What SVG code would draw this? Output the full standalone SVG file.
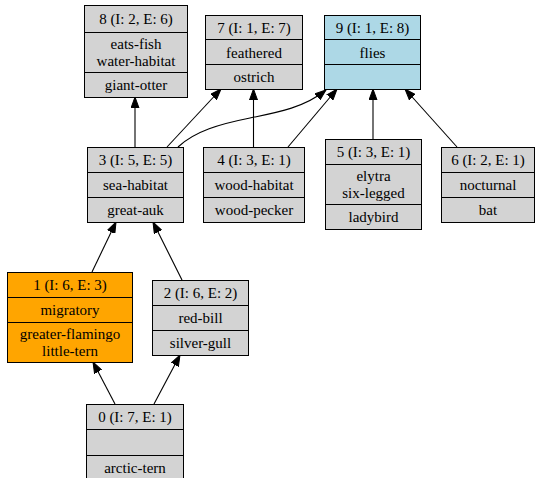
<svg xmlns="http://www.w3.org/2000/svg" width="536" height="478" viewBox="0 0 536 478">
<style>
.g{fill:#d3d3d3;stroke:#000;stroke-width:1}
.o{fill:#ffa500;stroke:#000;stroke-width:1}
.b{fill:#add8e6;stroke:#000;stroke-width:1}
.d{stroke:#000;stroke-width:1;fill:none}
text{font-family:"Liberation Serif","Times New Roman",Times,serif;font-size:15px;text-anchor:middle;fill:#000}
.e{stroke:#000;stroke-width:1.1;fill:none;marker-end:url(#ah)}
</style>
<defs>
<marker id="ah" markerUnits="userSpaceOnUse" markerWidth="12" markerHeight="9" refX="11" refY="4.5" orient="auto">
<path d="M0,0.5 L11,4.5 L0,8.5 Z" fill="#000" stroke="#000" stroke-width="1"/>
</marker>
</defs>
<g id="edges">
<path class="e" d="M135,147 L135,97"/>
<path class="e" d="M167,147 L221,89"/>
<path class="e" d="M178,147 C195,131 220,124 250,118 C280,112 305,107 326,90"/>
<path class="e" d="M253.5,147 L253.5,89"/>
<path class="e" d="M288,147 L337,89"/>
<path class="e" d="M373,139 L373,89"/>
<path class="e" d="M457,147 L405,89"/>
<path class="e" d="M92,272 L116,222"/>
<path class="e" d="M182,280 L153,222"/>
<path class="e" d="M115,404 L93,362"/>
<path class="e" d="M154,404 L180,355"/>
</g>
<g id="node8">
<rect class="g" x="84.5" y="5.5" width="103" height="92"/>
<path class="d" d="M84.5,32.5H187.5M84.5,72.5H187.5"/>
<text x="136" y="24">8 (I: 2, E: 6)</text>
<text x="136" y="48.5">eats-fish</text>
<text x="136" y="65.5">water-habitat</text>
<text x="136" y="90">giant-otter</text>
</g>
<g id="node7">
<rect class="g" x="205.5" y="15.5" width="97" height="74"/>
<path class="d" d="M205.5,39.5H302.5M205.5,64.5H302.5"/>
<text x="254" y="33">7 (I: 1, E: 7)</text>
<text x="254" y="57.5">feathered</text>
<text x="254" y="82">ostrich</text>
</g>
<g id="node9">
<rect class="b" x="324.5" y="15.5" width="96" height="74"/>
<path class="d" d="M324.5,39.5H420.5M324.5,64.5H420.5"/>
<text x="372.5" y="33">9 (I: 1, E: 8)</text>
<text x="372.5" y="57.5">flies</text>
</g>
<g id="node3">
<rect class="g" x="87.5" y="147.5" width="96" height="75"/>
<path class="d" d="M87.5,172.5H183.5M87.5,197.5H183.5"/>
<text x="135.5" y="165">3 (I: 5, E: 5)</text>
<text x="135.5" y="190">sea-habitat</text>
<text x="135.5" y="215">great-auk</text>
</g>
<g id="node4">
<rect class="g" x="203.5" y="147.5" width="101" height="75"/>
<path class="d" d="M203.5,172.5H304.5M203.5,197.5H304.5"/>
<text x="254" y="165">4 (I: 3, E: 1)</text>
<text x="254" y="190">wood-habitat</text>
<text x="254" y="215">wood-pecker</text>
</g>
<g id="node5">
<rect class="g" x="325.5" y="139.5" width="96" height="90"/>
<path class="d" d="M325.5,164.5H421.5M325.5,204.5H421.5"/>
<text x="373.5" y="157">5 (I: 3, E: 1)</text>
<text x="373.5" y="180.5">elytra</text>
<text x="373.5" y="197.5">six-legged</text>
<text x="373.5" y="222">ladybird</text>
</g>
<g id="node6">
<rect class="g" x="441.5" y="147.5" width="93" height="75"/>
<path class="d" d="M441.5,172.5H534.5M441.5,197.5H534.5"/>
<text x="488" y="165">6 (I: 2, E: 1)</text>
<text x="488" y="190">nocturnal</text>
<text x="488" y="215">bat</text>
</g>
<g id="node1">
<rect class="o" x="7.5" y="272.5" width="125" height="90"/>
<path class="d" d="M7.5,297.5H132.5M7.5,322.5H132.5"/>
<text x="70" y="290">1 (I: 6, E: 3)</text>
<text x="70" y="315">migratory</text>
<text x="70" y="338.5">greater-flamingo</text>
<text x="70" y="355.5">little-tern</text>
</g>
<g id="node2">
<rect class="g" x="152.5" y="280.5" width="96" height="75"/>
<path class="d" d="M152.5,305.5H248.5M152.5,330.5H248.5"/>
<text x="200.5" y="298">2 (I: 6, E: 2)</text>
<text x="200.5" y="323">red-bill</text>
<text x="200.5" y="348">silver-gull</text>
</g>
<g id="node0">
<rect class="g" x="86.5" y="404.5" width="97" height="76"/>
<path class="d" d="M86.5,429.5H183.5M86.5,455.5H183.5"/>
<text x="135" y="422">0 (I: 7, E: 1)</text>
<text x="135" y="473">arctic-tern</text>
</g>
</svg>
